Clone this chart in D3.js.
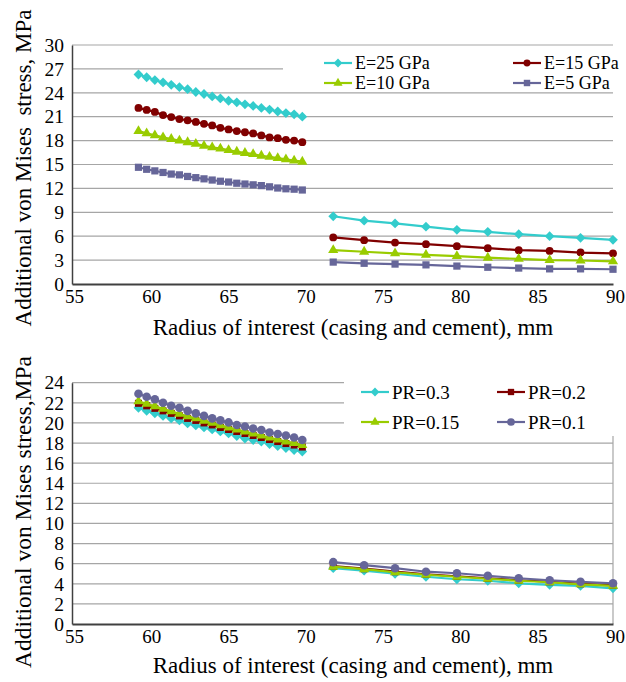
<!DOCTYPE html>
<html>
<head>
<meta charset="utf-8">
<script src="https://cdn.jsdelivr.net/npm/d3@7"></script>
<style>
  body { margin: 0; background: #fff; }
  svg text { font-family: "Liberation Serif", "Times New Roman", serif; fill: #000; }
</style>
</head>
<body>
<div id="chart"></div>
<script>
// radius positions, mm
var xLeft = [59.3, 59.83, 60.36, 60.89, 61.42, 61.95, 62.48, 63.01, 63.54, 64.07, 64.6,
             65.13, 65.66, 66.19, 66.72, 67.25, 67.78, 68.31, 68.84, 69.37, 69.9];
var xRight = [71.9, 73.9, 75.9, 77.9, 79.9, 81.9, 83.9, 85.9, 87.9, 90];

// top chart: elastic modulus
var e25L = [26.3, 25.95, 25.6, 25.3, 25.0, 24.7, 24.45, 24.1, 23.85, 23.55, 23.3, 23.0, 22.8, 22.55, 22.35, 22.1, 21.9, 21.65, 21.45, 21.3, 21.0];
var e25R = [8.5, 7.95, 7.6, 7.2, 6.8, 6.55, 6.25, 6.0, 5.8, 5.55];
var e15L = [22.1, 21.85, 21.6, 21.2, 20.95, 20.7, 20.55, 20.35, 20.1, 19.9, 19.6, 19.4, 19.2, 19.05, 18.9, 18.65, 18.4, 18.3, 18.1, 18.0, 17.8];
var e15R = [5.85, 5.5, 5.2, 5.0, 4.75, 4.5, 4.25, 4.15, 3.95, 3.85];
var e10L = [19.2, 18.9, 18.65, 18.4, 18.2, 18.0, 17.8, 17.6, 17.35, 17.15, 17.0, 16.8, 16.6, 16.45, 16.3, 16.1, 15.95, 15.8, 15.65, 15.5, 15.35];
var e10R = [4.25, 4.05, 3.85, 3.65, 3.5, 3.3, 3.15, 3.0, 2.95, 2.85];
var e5L = [14.65, 14.4, 14.2, 14.0, 13.8, 13.7, 13.5, 13.35, 13.2, 13.05, 12.9, 12.8, 12.65, 12.55, 12.45, 12.35, 12.2, 12.05, 11.95, 11.9, 11.8];
var e5R = [2.75, 2.6, 2.5, 2.4, 2.25, 2.1, 2.0, 1.9, 1.9, 1.85];

// bottom chart: Poisson's ratio
var pr3L = [21.5, 21.2, 20.95, 20.7, 20.45, 20.25, 19.95, 19.75, 19.55, 19.35, 19.15, 18.95, 18.7, 18.45, 18.3, 18.15, 17.9, 17.7, 17.5, 17.3, 17.15];
var pr3R = [5.55, 5.3, 5.0, 4.7, 4.45, 4.3, 4.05, 3.9, 3.8, 3.55];
var pr2L = [21.95, 21.7, 21.45, 21.2, 20.95, 20.7, 20.45, 20.25, 20.0, 19.8, 19.55, 19.35, 19.15, 18.95, 18.75, 18.55, 18.35, 18.15, 17.95, 17.8, 17.6];
var pr2R = [5.75, 5.5, 5.2, 4.95, 4.75, 4.55, 4.35, 4.2, 4.0, 3.85];
var pr15L = [22.15, 21.9, 21.65, 21.4, 21.15, 20.9, 20.65, 20.45, 20.2, 20.0, 19.75, 19.55, 19.35, 19.15, 18.95, 18.75, 18.55, 18.35, 18.15, 18.0, 17.8];
var pr15R = [5.7, 5.45, 5.15, 4.9, 4.7, 4.5, 4.3, 4.15, 3.95, 3.8];
var pr1L = [22.9, 22.6, 22.35, 22.0, 21.7, 21.5, 21.2, 20.95, 20.7, 20.45, 20.25, 20.05, 19.8, 19.65, 19.45, 19.3, 19.05, 18.9, 18.75, 18.55, 18.3];
var pr1R = [6.15, 5.85, 5.55, 5.2, 5.05, 4.8, 4.55, 4.35, 4.2, 4.05];

var xTicks = [55, 60, 65, 70, 75, 80, 85, 90];
var yTicksTop = [0, 3, 6, 9, 12, 15, 18, 21, 24, 27, 30];
var yTicksBottom = [0, 2, 4, 6, 8, 10, 12, 14, 16, 18, 20, 22, 24];

// square diamond (rotated square) like Excel's marker
var diamond = {
  draw: function (ctx, size) {
    var r = Math.sqrt(size / 2);
    ctx.moveTo(0, -r); ctx.lineTo(r, 0); ctx.lineTo(0, r); ctx.lineTo(-r, 0); ctx.closePath();
  }
};

var topSeries = [
  { name: "E=25 GPa", left: e25L, right: e25R, color: "#33cccc", shape: diamond, size: 48 },
  { name: "E=15 GPa", left: e15L, right: e15R, color: "#800000", shape: d3.symbolCircle, size: 48 },
  { name: "E=10 GPa", left: e10L, right: e10R, color: "#99cc00", shape: d3.symbolTriangle, size: 45 },
  { name: "E=5 GPa", left: e5L, right: e5R, color: "#666699", shape: d3.symbolSquare, size: 52 }
];
var bottomSeries = [
  { name: "PR=0.3", left: pr3L, right: pr3R, color: "#33cccc", shape: diamond, size: 48 },
  { name: "PR=0.2", left: pr2L, right: pr2R, color: "#800000", shape: d3.symbolSquare, size: 50 },
  { name: "PR=0.15", left: pr15L, right: pr15R, color: "#99cc00", shape: d3.symbolTriangle, size: 45 },
  { name: "PR=0.1", left: pr1L, right: pr1R, color: "#666699", shape: d3.symbolCircle, size: 58 }
];

var svg = d3.select("#chart").append("svg")
  .attr("width", 626)
  .attr("height", 682);

var x = d3.scaleLinear().domain([55, 90]).range([72, 613]);

function drawChart(opt) {
  var y = d3.scaleLinear().domain([0, opt.ymax]).range([opt.y0, opt.y1]);
  var g = svg.append("g");

  // gridlines
  g.append("g").selectAll("line")
    .data(opt.yTicks.filter(function (d) { return d > 0; }))
    .enter().append("line")
    .attr("x1", x(55)).attr("x2", x(90))
    .attr("y1", function (d) { return y(d); })
    .attr("y2", function (d) { return y(d); })
    .attr("stroke", "#a6a6a6").attr("stroke-width", 1.2);

  if (opt.rightBorder) {
    g.append("line")
      .attr("x1", x(90)).attr("x2", x(90))
      .attr("y1", y(opt.ymax)).attr("y2", y(0))
      .attr("stroke", "#a6a6a6").attr("stroke-width", 1.2);
  }

  // axes
  var yAxis = g.append("g")
    .attr("transform", "translate(" + x(55) + ",0)")
    .call(d3.axisLeft(y).tickValues(opt.yTicks).tickSize(0).tickPadding(8))
    .attr("font-family", null).attr("font-size", null);
  yAxis.select(".domain").attr("stroke", "#404040").attr("stroke-width", 1.5);
  yAxis.selectAll("text").style("font-size", "19.5px");

  var xAxis = g.append("g")
    .attr("transform", "translate(0," + y(0) + ")")
    .call(d3.axisBottom(x).tickValues(xTicks).tickSize(0).tickPadding(6))
    .attr("font-family", null).attr("font-size", null);
  xAxis.select(".domain").attr("stroke", "#404040").attr("stroke-width", 1.8);
  xAxis.selectAll("text").style("font-size", "19px").attr("dx", "0.1em");

  // series
  var line = d3.line()
    .x(function (d) { return x(d[0]); })
    .y(function (d) { return y(d[1]); });

  opt.series.forEach(function (s) {
    var segL = xLeft.map(function (v, i) { return [v, s.left[i]]; });
    var segR = xRight.map(function (v, i) { return [v, s.right[i]]; });
    var sg = g.append("g");
    [segL, segR].forEach(function (seg) {
      sg.append("path")
        .attr("d", line(seg))
        .attr("fill", "none")
        .attr("stroke", s.color)
        .attr("stroke-width", 2.2);
    });
    sg.selectAll("path.mark")
      .data(segL.concat(segR))
      .enter().append("path")
      .attr("class", "mark")
      .attr("transform", function (d) { return "translate(" + x(d[0]) + "," + y(d[1]) + ")"; })
      .attr("d", d3.symbol().type(s.shape).size(s.size))
      .attr("fill", s.color);
  });

  // legend
  var lg = g.append("g");
  lg.append("rect")
    .attr("x", opt.legend.x).attr("y", opt.legend.y)
    .attr("width", opt.legend.w).attr("height", opt.legend.h)
    .attr("fill", "#fff");
  opt.series.forEach(function (s, i) {
    var lx = opt.legend.cols[i % 2];
    var ly = opt.legend.rows[Math.floor(i / 2)];
    lg.append("line")
      .attr("x1", lx).attr("x2", lx + 28)
      .attr("y1", ly).attr("y2", ly)
      .attr("stroke", s.color).attr("stroke-width", 2.2);
    lg.append("path")
      .attr("transform", "translate(" + (lx + 14) + "," + ly + ")")
      .attr("d", d3.symbol().type(s.shape).size(s.size * 0.8))
      .attr("fill", s.color);
    lg.append("text")
      .attr("x", lx + 31).attr("y", ly)
      .attr("dy", "0.35em")
      .style("font-size", opt.legend.font)
      .text(s.name);
  });

  // titles
  g.append("text")
    .attr("x", 353).attr("y", opt.xTitleY)
    .attr("text-anchor", "middle")
    .style("font-size", "23px")
    .text("Radius of interest (casing and cement), mm");
  g.append("text")
    .attr("transform", "translate(23," + opt.yTitleY + ") rotate(-90)")
    .attr("text-anchor", "middle")
    .attr("dy", "0.35em")
    .style("font-size", opt.yTitleFont)
    .style("white-space", "pre")
    .text(opt.yTitle);
}

drawChart({
  ymax: 30, y0: 284, y1: 45, yTicks: yTicksTop, series: topSeries,
  rightBorder: false,
  legend: { x: 283, y: 48, w: 340, h: 41, cols: [324, 513], rows: [63, 83], font: "18px" },
  xTitleY: 335, yTitleY: 168, yTitleFont: "23px",
  yTitle: "Additional von Mises  stress, MPa"
});

drawChart({
  ymax: 24, y0: 624, y1: 382.7, yTicks: yTicksBottom, series: bottomSeries,
  rightBorder: true,
  legend: { x: 344, y: 376, w: 280, h: 60, cols: [361, 497], rows: [392, 422], font: "19px" },
  xTitleY: 673, yTitleY: 512, yTitleFont: "23.5px",
  yTitle: "Additional von Mises stress,MPa"
});
</script>
</body>
</html>
